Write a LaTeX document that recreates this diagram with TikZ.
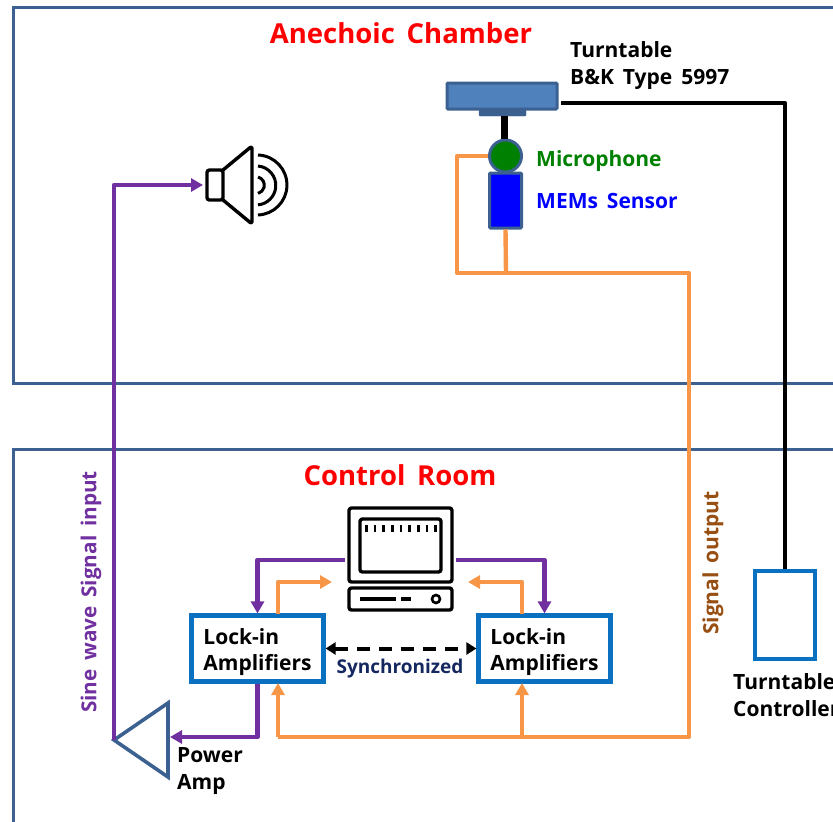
\documentclass[tikz,border=0pt]{standalone}
\usepackage{fontspec}
\usepackage{xcolor}
\usetikzlibrary{arrows.meta}
\setmainfont{Open Sans}
\definecolor{framecol}{HTML}{3C6191}
\definecolor{boxcol}{HTML}{0A70C0}
\definecolor{wirepurple}{HTML}{7030A0}
\definecolor{wireorange}{HTML}{F79646}
\definecolor{tablecol}{HTML}{4F81BD}
\definecolor{navycol}{HTML}{14285F}
\definecolor{browncol}{HTML}{974F13}
\tikzset{
    frame/.style={framecol, line width=3pt},
    purplewire/.style={wirepurple, line width=4.4pt, line join=round},
    orangewire/.style={wireorange, line width=4.4pt, line join=round},
    blackwire/.style={black, line width=4.6pt, line join=round},
    tip/.style={-{Triangle[length=12pt, width=13pt]}},
    ampbox/.style={draw=boxcol, line width=4.2pt, minimum width=132pt, minimum height=66pt, align=left, inner sep=0pt, font=\fontsize{21}{26}\selectfont\bfseries},
    label/.style={inner sep=0pt, align=left, font=\fontsize{21}{27}\selectfont\bfseries},
    title/.style={inner sep=0pt, red, font=\fontsize{27.5}{32}\selectfont\bfseries},
    icon/.style={black, line width=3.4pt, rounded corners=2.5pt, line join=round}
}
\begin{document}
\begin{tikzpicture}[x=1pt, y=-1pt]
    \useasboundingbox (0,0) rectangle (833,822);
    \clip (0,0) rectangle (833,822);

    % Room outlines, open at the page edges
    \draw[frame] (840,7) -- (13,7) -- (13,383) -- (840,383);
    \draw[frame] (840,449) -- (13,449) -- (13,830);
    \node[title] (chamber) at (401,33) {Anechoic\, Chamber};
    \node[title] (room) at (400,475) {Control\, Room};

    % Turntable and sensors
    \node[draw=framecol, fill=framecol, minimum width=47pt, minimum height=6pt, inner sep=0pt, rounded corners=1pt] (tablefoot) at (502.5,113) {};
    \node[draw=framecol, fill=tablecol, line width=3pt, minimum width=110pt, minimum height=26pt, inner sep=0pt, rounded corners=1pt] (table) at (502,96) {};
    \node[draw=framecol, fill=blue, line width=3pt, minimum width=32pt, minimum height=55pt, inner sep=0pt, rounded corners=1pt] (sensor) at (505.5,200.5) {};
    \node[circle, draw=framecol, fill=green!50!black, line width=3pt, minimum size=32pt, inner sep=0pt] (mic) at (505.5,156) {};
    \draw[black, line width=7pt] (tablefoot.south -| 504,0) -- (mic.north -| 504,0);
    \node[label, black, anchor=west] (tablelabel) at (570,66) {Turntable\\B\&K\, Type\, 5997};
    \node[label, green!50!black, anchor=west] (miclabel) at (536,161) {Microphone};
    \node[label, blue, anchor=west] (sensorlabel) at (536,200.5) {MEMs\, Sensor};

    % Turntable controller
    \node[draw=boxcol, line width=4.4pt, minimum width=60pt, minimum height=88pt, inner sep=0pt] (control) at (785,615) {};
    \node[label, black, anchor=west] (controllabel) at (733,695) {Turntable\\Controller};
    \coordinate (tableout) at (561,103);
    \coordinate (blackturn) at (785,103);
    \draw[blackwire] (tableout) -- (blackturn) -- (control.north);

    % Speaker
    \draw[icon] (223,170) -- (207,170) -- (207,200) -- (223,200) -- cycle;
    \draw[icon] (223,170) -- (252,146) -- (252,224) -- (223,200);
    \draw[black, line width=3pt] (258,177) arc (-75:75:8.5);
    \draw[black, line width=3pt] (258,166) arc (-85:85:19.5);
    \draw[black, line width=3pt] (258,155) arc (-88:88:30);
    \coordinate (speakerin) at (203,185);

    % Computer
    \draw[icon] (349,508) rectangle (452,582);
    \draw[icon] (360,519) rectangle (441,572);
    \draw[black, line width=7pt, dash pattern=on 2.6pt off 6.07pt] (365,528.5) -- (438,528.5);
    \draw[icon] (349,588) rectangle (452,610);
    \draw[black, line width=3.2pt] (360,599) -- (396,599);
    \draw[black, line width=3.2pt] (401,599) -- (411,599);
    \draw[black, line width=2.6pt] (436,599) circle (4pt);
    \coordinate (pcleft) at (345,560);
    \coordinate (pcright) at (456,560);
    \coordinate (pcinleft) at (332,582);
    \coordinate (pcinright) at (468,582);

    % Lock-in amplifiers
    \node[ampbox] (lockleft) at (257.5,648.5) {\rule{0pt}{24pt}Lock-in\\Amplifiers};
    \node[ampbox] (lockright) at (544.5,648.5) {\rule{0pt}{24pt}Lock-in\\Amplifiers};
    \draw[black, line width=4pt, dash pattern=on 13pt off 9pt, {Triangle[length=10pt, width=12pt]}-{Triangle[length=10pt, width=12pt]}] (lockleft.east) -- (lockright.west);
    \node[inner sep=0pt, navycol, font=\fontsize{19}{22}\selectfont\bfseries] (sync) at (400,669) {Synchronized};

    % Computer to amplifiers
    \draw[purplewire, tip] (pcleft) -| (lockleft.north);
    \draw[purplewire, tip] (pcright) -| (lockright.north);
    \coordinate (upleft) at (278,614);
    \coordinate (upright) at (522,614);
    \draw[orangewire, tip] (upleft) |- (pcinleft);
    \draw[orangewire, tip] (upright) |- (pcinright);

    % Power amplifier
    \coordinate (amptip) at (114,740);
    \coordinate (amptop) at (168,703);
    \coordinate (ampbot) at (168,777);
    \coordinate (ampin) at (170,737);
    \draw[framecol, line width=3.6pt, line join=miter] (amptip) -- (amptop) -- (ampbot) -- cycle;
    \node[label, black, anchor=west] (amplabel) at (177,771) {Power\\Amp};
    \draw[purplewire, tip] (lockleft.south) |- (ampin);
    \draw[purplewire, tip] (amptip) |- (speakerin);
    \node[rotate=90, inner sep=0pt, wirepurple, font=\fontsize{20.7}{24}\selectfont\bfseries] (sinelabel) at (91,592) {Sine\, wave\, Signal\, input};

    % Signal lines back from the sensors
    \coordinate (micturn) at (457,156);
    \coordinate (join) at (506,273);
    \coordinate (corner) at (689,273);
    \coordinate (bottom) at (689,737);
    \coordinate (downleft) at (278,683);
    \coordinate (downright) at (522,683);
    \coordinate (branch) at (522,737);
    \draw[orangewire] (mic.west) -- (micturn) -- (457,273) -- (corner) -- (bottom) -- (278,737);
    \draw[orangewire] (sensor.south) -- (join);
    \draw[orangewire, tip] (278,737) -- (downleft);
    \draw[orangewire, tip] (branch) -- (downright);
    \node[rotate=90, inner sep=0pt, browncol, font=\fontsize{21}{24}\selectfont\bfseries] (outlabel) at (713,563) {Signal\, output};
\end{tikzpicture}
\end{document}
